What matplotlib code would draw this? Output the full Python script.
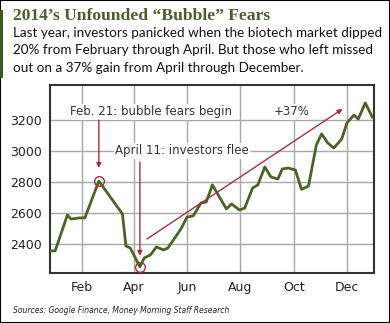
import numpy as np
import pandas as pd
import matplotlib
matplotlib.use('Agg')
import matplotlib.pyplot as plt
import matplotlib.dates as mdates
from matplotlib.patches import Rectangle

# Biotech index
dates = ['2013-12-27', '2014-01-01', '2014-01-15', '2014-01-19', '2014-01-29', '2014-02-04',
         '2014-02-20', '2014-03-19', '2014-03-23', '2014-03-28', '2014-04-08', '2014-04-13',
         '2014-04-20', '2014-04-27', '2014-05-05', '2014-05-10', '2014-05-25', '2014-06-01',
         '2014-06-08', '2014-06-17', '2014-06-23', '2014-06-30', '2014-07-16', '2014-07-22',
         '2014-07-31', '2014-08-06', '2014-08-15', '2014-08-21', '2014-08-29', '2014-09-05',
         '2014-09-13', '2014-09-18', '2014-09-25', '2014-10-03', '2014-10-10', '2014-10-18',
         '2014-10-27', '2014-11-02', '2014-11-09', '2014-11-16', '2014-11-25', '2014-12-01',
         '2014-12-09', '2014-12-14', '2014-12-22', '2014-12-30']
values = [2355, 2355, 2587, 2561, 2568, 2568,
          2806, 2594, 2387, 2374, 2252, 2310,
          2329, 2381, 2361, 2374, 2497, 2574,
          2581, 2665, 2671, 2781, 2626, 2658,
          2619, 2632, 2761, 2781, 2897, 2832,
          2819, 2884, 2890, 2877, 2752, 2774,
          3039, 3110, 3052, 3019, 3077, 3181,
          3232, 3206, 3310, 3219]

title = '2014\u2019s Unfounded \u201cBubble\u201d Fears'
subtitle = ['Last year, investors panicked when the biotech market dipped',
            '20% from February through April. But those who left missed',
            'out on a 37% gain from April through December.']
source = 'Sources: Google Finance, Money Morning Staff Research'

x = pd.to_datetime(dates)
green = '#4a6428'
red = '#a23040'

fig = plt.figure(figsize=(3.9, 3.23), dpi=100)
ax = fig.add_axes([0.128, 0.155, 0.831, 0.582])

ax.plot(x, values, color=green, lw=2, zorder=3)
ax.set_xlim(pd.Timestamp('2013-12-26'), pd.Timestamp('2015-01-01'))
ax.set_ylim(2213, 3426)
ax.set_yticks([2400, 2600, 2800, 3000, 3200])
ax.xaxis.set_major_locator(mdates.MonthLocator(bymonth=[2, 4, 6, 8, 10, 12]))
ax.xaxis.set_major_formatter(mdates.DateFormatter('%b'))
ax.grid(True, color='#a8a8a8', lw=1)
ax.tick_params(length=0, labelsize=9, colors='#222222', pad=6)
for s in ax.spines.values():
    s.set_color('#333333')
    s.set_linewidth(1.5)

# peak and trough circles
peak = pd.Timestamp('2014-02-20')
low = pd.Timestamp('2014-04-08')
ax.plot([peak, low], [2806, 2252], 'o', mfc='none', mec=red, ms=7, mew=1, zorder=4)

box = dict(facecolor='white', edgecolor='none', pad=1)
ax.text(pd.Timestamp('2014-04-21'), 3252, 'Feb. 21: bubble fears begin', ha='center', va='center',
        fontsize=8.5, color='#333333', bbox=box, zorder=5)
ax.text(pd.Timestamp('2014-05-26'), 3000, 'April 11: investors flee', ha='center', va='center',
        fontsize=8.5, color='#333333', bbox=box, zorder=5)
ax.text(pd.Timestamp('2014-09-29'), 3252, '+37%', ha='center', va='center',
        fontsize=8.5, color='#333333', bbox=box, zorder=5)

arr = dict(arrowstyle='-|>', color=red, lw=1, mutation_scale=7, shrinkA=0, shrinkB=0)
ax.annotate('', xy=(peak, 2890), xytext=(peak, 3200), arrowprops=arr, zorder=5)
ax.annotate('', xy=(low, 2323), xytext=(low, 2929), arrowprops=arr, zorder=5)
ax.annotate('', xy=(pd.Timestamp('2014-11-26'), 3271), xytext=(pd.Timestamp('2014-04-16'), 2432),
            arrowprops=arr, zorder=5)

# header
fig.text(0.033, 0.951, title, fontsize=12.6, fontweight='bold', family='Liberation Serif',
         color='#4b5e2c', va='center')
for i, line in enumerate(subtitle):
    fig.text(0.033, 0.898 - i * 0.054, line, fontsize=9.75, family='Lato', color='#111111', va='center')
fig.text(0.033, 0.04, source, fontsize=5.5, style='italic', color='#222222', va='center')

# frame and green side bar
fig.patches.append(Rectangle((0, 0), 1, 1, transform=fig.transFigure, fill=False,
                             edgecolor='black', lw=1.5))
fig.patches.append(Rectangle((0, 0.76), 0.008, 0.21, transform=fig.transFigure,
                             facecolor='#3e5a22', edgecolor='none'))

fig.savefig('out.png', dpi=100)
